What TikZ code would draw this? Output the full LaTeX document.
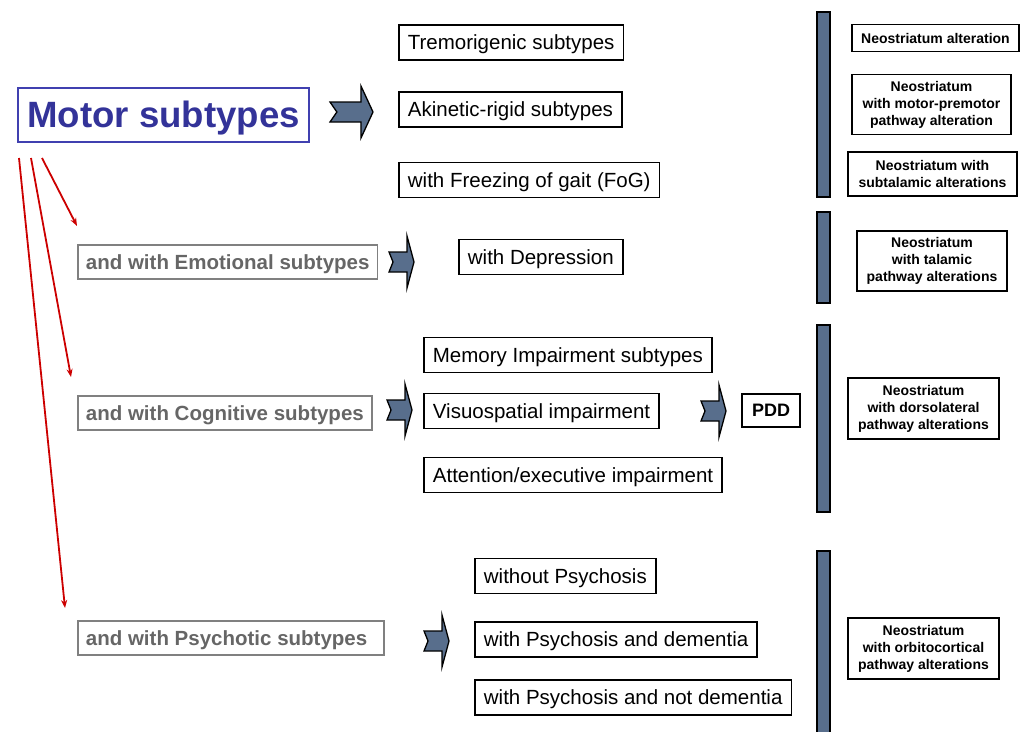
\documentclass[tikz,border=0pt]{standalone}
\usepackage{fontspec}
\setmainfont{Liberation Sans}
\usetikzlibrary{arrows.meta}

\definecolor{slate}{RGB}{88,110,140}
\definecolor{motorblue}{RGB}{51,51,153}
\definecolor{motorframe}{RGB}{64,64,176}
\definecolor{subgray}{RGB}{102,102,102}
\definecolor{framegray}{RGB}{128,128,128}
\definecolor{linkred}{RGB}{204,0,0}

\tikzset{
  blockarrow/.pic={
    \draw[fill=slate, line width=1.3pt, line join=miter]
      (0,0) -- (-7,-26) -- (-7,-10) -- (-25,-10) -- (-21,0)
      -- (-25,10) -- (-7,10) -- (-7,26) -- cycle;
  }
}

\begin{document}
\begin{tikzpicture}[x=1pt, y=-1pt,
  subbox/.style={draw, line width=1.8pt, anchor=west, inner xsep=9pt,
    minimum height=35pt, text height=18.5pt, text depth=4.3pt,
    font=\fontsize{20.5}{24}\selectfont},
  groupbox/.style={draw=framegray, text=subgray, line width=1.8pt, anchor=west,
    inner xsep=8pt, minimum height=34pt, text height=18.5pt, text depth=4.3pt,
    font=\bfseries\fontsize{20.5}{24}\selectfont},
  areabox/.style={draw, line width=1.8pt, align=center, inner sep=4pt,
    font=\bfseries\fontsize{14}{17}\selectfont},
  bar/.style={draw, fill=slate, line width=1.3pt},
  link/.style={linkred, line width=1.8pt, -{Stealth[length=8pt, width=6pt]}}
]
  \useasboundingbox (0,0) rectangle (1027,731);

  % main box
  \node[draw=motorframe, text=motorblue, line width=1.8pt, minimum width=291,
    minimum height=54, text height=33pt, text depth=7.7pt,
    font=\bfseries\fontsize{36.6}{40}\selectfont]
    (motor) at (163.5,115) {Motor subtypes};

  % group boxes
  \node[groupbox] (emo) at (77,262) {and with Emotional subtypes};
  \node[groupbox] (cog) at (77,413) {and with Cognitive subtypes};
  \node[groupbox, text width=290pt, align=flush left] (psy) at (77,638) {and with Psychotic subtypes};

  % red links from the main box
  \coordinate (m1) at (19,158);
  \coordinate (m2) at (31,158);
  \coordinate (m3) at (42,158);
  \coordinate (e1) at (65,608);
  \coordinate (e2) at (71,377);
  \coordinate (e3) at (77,226);
  \draw[link] (m1) -- (e1);
  \draw[link] (m2) -- (e2);
  \draw[link] (m3) -- (e3);

  % block arrows
  \pic[xscale=1.72] at (373,112) {blockarrow};
  \pic at (414,262) {blockarrow};
  \pic at (412,410) {blockarrow};
  \pic at (726,411) {blockarrow};
  \pic at (449,641) {blockarrow};

  % motor subtypes
  \node[subbox] (tre) at (398,42.5) {Tremorigenic subtypes};
  \node[subbox] (aki) at (398,109.5) {Akinetic-rigid subtypes};
  \node[subbox] (fog) at (398,180) {with Freezing of gait (FoG)};

  % emotional and cognitive subtypes
  \node[subbox] (dep) at (458,257) {with Depression};
  \node[subbox] (mem) at (423,355) {Memory Impairment subtypes};
  \node[subbox] (vis) at (423,411) {Visuospatial impairment};
  \node[subbox] (att) at (423,475) {Attention/executive impairment};
  \node[draw, line width=1.8pt, minimum width=58, minimum height=33,
    font=\bfseries\fontsize{18}{20}\selectfont] (pdd) at (771,410.5) {PDD};

  % psychotic subtypes
  \node[subbox] (nopsy) at (474,576) {without Psychosis};
  \node[subbox] (psydem) at (474,639.5) {with Psychosis and dementia};
  \node[subbox] (psynodem) at (474,697.5) {with Psychosis and not dementia};

  % bars
  \draw[bar] (817,12) rectangle (830,197);
  \draw[bar] (817,212) rectangle (830,303);
  \draw[bar] (817,325) rectangle (830,512);
  \draw[bar] (817,551) rectangle (830,740);

  % neostriatum boxes
  \node[areabox, minimum width=167, minimum height=27] (n1) at (935.5,38) {Neostriatum alteration};
  \node[areabox, minimum width=159, minimum height=60] (n2) at (931.5,104.5)
    {Neostriatum\\with motor-premotor\\pathway alteration};
  \node[areabox, minimum width=169, minimum height=44] (n3) at (932.5,174)
    {Neostriatum with\\subtalamic alterations};
  \node[areabox, minimum width=150, minimum height=60] (n4) at (932,261)
    {Neostriatum\\with talamic\\pathway alterations};
  \node[areabox, minimum width=151, minimum height=61] (n5) at (923.5,408.5)
    {Neostriatum\\with dorsolateral\\pathway alterations};
  \node[areabox, minimum width=151, minimum height=61] (n6) at (923.5,648.5)
    {Neostriatum\\with orbitocortical\\pathway alterations};

\end{tikzpicture}
\end{document}
